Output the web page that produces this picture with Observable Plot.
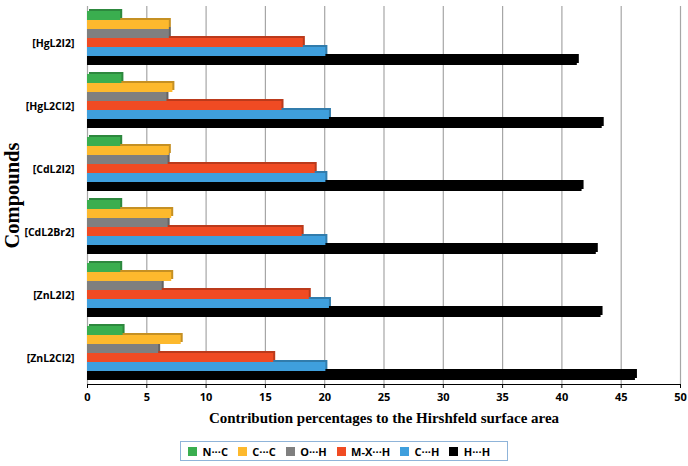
<!DOCTYPE html>
<html>
<head>
<meta charset="utf-8">
<script src="https://cdn.jsdelivr.net/npm/d3@7"></script>
<script src="https://cdn.jsdelivr.net/npm/@observablehq/plot@0.6"></script>
<style>
  body { margin: 0; background: #fff; }
  #chart { width: 688px; }
  #chart svg { display: block; }
  [aria-label="x-axis tick label"] text, [aria-label="x-axis tick label"] { font-family: "Open Sans", sans-serif; font-weight: bold; font-size: 11px; fill: #000; }
  [aria-label="fy-axis tick label"] text, [aria-label="fy-axis tick label"] { font-family: "Open Sans", sans-serif; font-weight: bold; font-size: 10.5px; fill: #000; }
  [aria-label="x-axis label"] text, [aria-label="x-axis label"] { font: bold 15px "Liberation Serif", serif; fill: #000; }
  [aria-label="fy-axis label"] text, [aria-label="fy-axis label"] { font: bold 20.5px "Liberation Serif", serif; fill: #000; }
  #legend-box { width: 328px; margin: 5px auto 0; border: 1px solid #8fb4d9; box-sizing: border-box; height: 20px; display: flex; align-items: center; justify-content: center; overflow: hidden; }
  #legend-box > div { flex-wrap: nowrap !important; min-height: 0 !important; margin: 0 !important; }
  #legend-box span { margin-right: 0.9em !important; white-space: nowrap; }
</style>
</head>
<body>
<div id="chart"></div>
<script>
// Hirshfeld surface contact contributions (%) per complex
const compounds = ["[HgL2I2]", "[HgL2Cl2]", "[CdL2I2]", "[CdL2Br2]", "[ZnL2I2]", "[ZnL2Cl2]"];
const contacts = ["N···C", "C···C", "O···H", "M-X···H", "C···H", "H···H"];
const nC  = [2.8, 2.9, 2.8, 2.8, 2.8, 3.0];
const cC  = [6.9, 7.2, 6.9, 7.1, 7.1, 7.9];
const oH  = [6.9, 6.7, 6.8, 6.8, 6.3, 6.0];
const mxH = [18.2, 16.4, 19.2, 18.1, 18.7, 15.7];
const cH  = [20.1, 20.4, 20.1, 20.1, 20.4, 20.1];
const hH  = [41.3, 43.4, 41.7, 42.9, 43.3, 46.2];
const xTicks = [0, 5, 10, 15, 20, 25, 30, 35, 40, 45, 50];
const colors = ["#3aae4f", "#fdb92d", "#7f7f7f", "#f04b23", "#3f9fdd", "#000000"];

const series = [nC, cC, oH, mxH, cH, hH];
const rows = [];
compounds.forEach((c, i) => {
  contacts.forEach((k, j) => rows.push({compound: c, contact: k, value: series[j][i]}));
});
// darker shade for the depth faces of each bar
const sideColor = d3.scaleOrdinal(contacts, colors.map(c => d3.color(c).darker(0.7).formatHex()));

const chart = Plot.plot({
  width: 688,
  height: 436,
  marginLeft: 87,
  marginRight: 8,
  marginTop: 6,
  marginBottom: 52,
  x: {domain: [0, 50], ticks: xTicks, tickSize: 4, label: "Contribution percentages to the Hirshfeld surface area", labelAnchor: "center", labelArrow: "none", labelOffset: 38, line: true},
  y: {domain: contacts, paddingInner: 0, paddingOuter: 0.5, axis: null},
  fy: {domain: compounds, padding: 0, label: "Compounds", labelAnchor: "center", labelOffset: 83, tickSize: 0, tickPadding: 13},
  color: {domain: contacts, range: colors},
  marks: [
    Plot.gridX(xTicks, {stroke: "#a6a6a6", strokeOpacity: 1, strokeWidth: 1.2}),
    Plot.barX(rows, {x: "value", y: "contact", fy: "compound", fill: d => sideColor(d.contact), dx: 2, dy: -2}),
    Plot.barX(rows, {x: "value", y: "contact", fy: "compound", fill: "contact"})
  ]
});

document.getElementById("chart").appendChild(chart);
d3.select(chart).selectAll('[aria-label="x-axis tick"], [aria-label="x-axis line"], [aria-label="frame"]').attr("stroke", "#a6a6a6");
d3.select(chart).selectAll('[aria-label="fy-axis tick label"] text').attr("dy", "0.5em");

const box = document.createElement("div");
box.id = "legend-box";
box.appendChild(Plot.legend({
  color: {domain: contacts, range: colors},
  legend: "swatches",
  swatchSize: 9,
  style: {fontFamily: "'Open Sans', sans-serif", fontSize: "11px", fontWeight: "bold", color: "#000"}
}));
document.getElementById("chart").appendChild(box);
</script>
</body>
</html>
